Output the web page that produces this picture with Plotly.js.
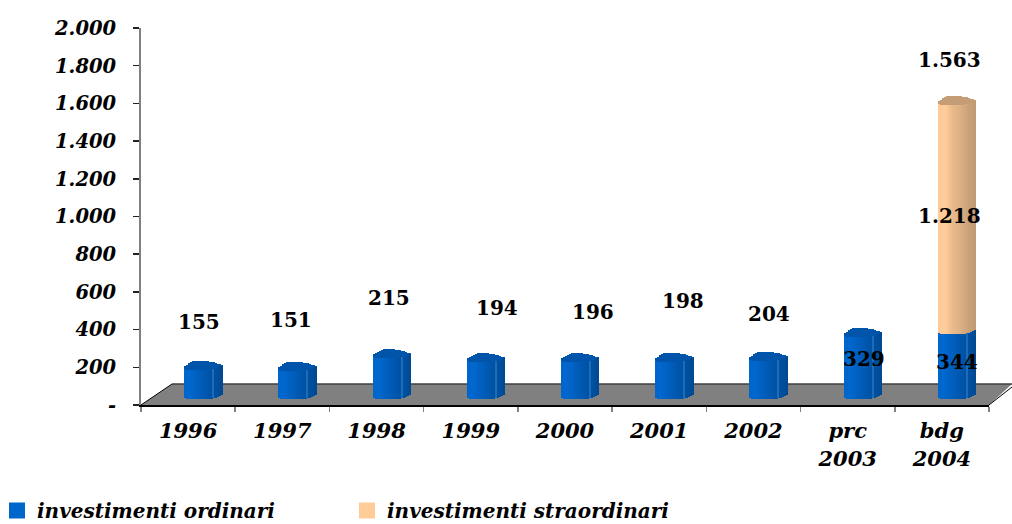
<!DOCTYPE html>
<html><head><meta charset="utf-8">
<script src="https://cdn.plot.ly/plotly-3.0.1.min.js"></script>
<style>html,body{margin:0;padding:0;background:#fff}#c{width:1012px;height:524px}</style>
</head><body><div id="c"></div>
<script>
// ---- data ----
const categories = ['1996','1997','1998','1999','2000','2001','2002','prc<br>2003','bdg<br>2004'];
const ordinari = [155,151,215,194,196,198,204,329,344];
const straordinari = [null,null,null,null,null,null,null,null,1218];
const totaleLabel = '1.563';
const yTickVals = [0,200,400,600,800,1000,1200,1400,1600,1800,2000];
const yTickText = ['-','200','400','600','800','1.000','1.200','1.400','1.600','1.800','2.000'];
// label placement (category index, value units)
const labelOrdX = [0.116,1.09,2.13,3.28,4.30,5.25,6.17,7.17,8.16];
const labelOrdY = [440,451,568,515,493,552,483,244,228];
const labelExtra = {x:8.08,y:1003};
const labelTotal = {x:8.08,y:1830};

// ---- geometry / style ----
const W=1012,H=524,L=141,R=989,T=28,B=405;
const pxX=(R-L)/categories.length, pxY=(B-T)/2000;
const FONT='"DejaVu Serif"';
const floorBase=6/pxY;
const blue=['#0066CC','#0066CC','#0068CE','#0066CC','#0064C8','#0062C4','#0060C0','#005EBC','#005CB8','#005AB4','#0058B0','#0056AC','#0054A8','#0052A4','#1C6CBC','#0050A0','#004E9C','#004C98','#004A94'];
const peach=['#FFCC99','#FFCC99','#FFCC99','#FFCC99','#FBC996','#F4C391','#ECBD8D','#E8BA8B','#E5B78A','#E2B588','#DEB285','#DAAF83','#D6AB80','#D2A87E','#CDA47B','#C9A078','#C69E77','#C49C75','#C29A74'];
const rise=[1,0,0,0,0,0,0,0,0,0,0,0,0,0.5,1,1.5,2,3,4];      // px lift of the lower/upper front edge
const depth=[3,5,6.5,7.5,8.5,9,9,9,9,9,9,8.5,8,7.5,6.5,5.5,4,2.5,1]; // px depth of the top ellipse
const strips=blue.length, stripPx=2;
const capBlue='#0055AA', capPeach='#C49C75';
const toCat=p=>p/pxX;

const traces=[];
for(let s=0;s<strips;s++){
  const off=toCat(-4+s*stripPx), wid=toCat(stripPx+0.4);
  const lift=rise[s]/pxY, cap=depth[s]/pxY;
  const common={type:'bar',x:categories,offset:off,width:wid,showlegend:false,hoverinfo:'skip'};
  const ordTopCap=ordinari.map((v,i)=>straordinari[i]==null?cap:null);
  traces.push({...common,y:ordinari,base:ordinari.map(()=>floorBase+lift),marker:{color:blue[s],line:{width:0}}});
  traces.push({...common,y:ordTopCap,base:ordinari.map(v=>floorBase+lift+v),marker:{color:capBlue,line:{width:0}}});
  traces.push({...common,y:straordinari,base:ordinari.map(v=>floorBase+lift+v),marker:{color:peach[s],line:{width:0}}});
  traces.push({...common,y:straordinari.map(v=>v==null?null:cap),base:ordinari.map((v,i)=>floorBase+lift+v+(straordinari[i]||0)),marker:{color:capPeach,line:{width:0}}});
}
// legend entries
traces.push({type:'bar',x:[categories[0]],y:[null],name:'investimenti ordinari',marker:{color:'#0066CC',line:{color:'#0066CC',width:4}},hoverinfo:'skip'});
traces.push({type:'bar',x:[categories[0]],y:[null],name:'investimenti straordinari',marker:{color:'#FFCC99',line:{color:'#FFCC99',width:4}},hoverinfo:'skip'});

const fmt=n=>String(n).replace(/\B(?=(\d{3})+$)/g,'.');
const lab=(x,y,t)=>({xref:'x',yref:'y',x,y,text:t,showarrow:false,xanchor:'center',yanchor:'middle',font:{family:FONT,size:20,color:'#000',weight:700}});
const annotations=ordinari.map((v,i)=>lab(labelOrdX[i],labelOrdY[i],fmt(v)));
annotations.push(lab(labelExtra.x,labelExtra.y,fmt(straordinari[8])));
annotations.push(lab(labelTotal.x,labelTotal.y,totaleLabel));

const fx=p=>(p-L)/(R-L), fy=p=>(B-p)/(B-T);
const floor={type:'path',xref:'paper',yref:'paper',layer:'below',fillcolor:'#808080',line:{width:0},
  path:`M ${fx(141)} ${fy(405)} L ${fx(172)} ${fy(384)} L ${fx(1012)} ${fy(384)} L ${fx(989)} ${fy(405)} Z`};
const edge={type:'path',xref:'paper',yref:'paper',layer:'below',line:{color:'#404040',width:1.5},
  path:`M ${fx(172)} ${fy(384)} L ${fx(1012)} ${fy(384)}`};
const edge2={type:'path',xref:'paper',yref:'paper',layer:'below',line:{color:'#000',width:1},
  path:`M ${fx(141)} ${fy(405)} L ${fx(172)} ${fy(384)} M ${fx(989)} ${fy(405)} L ${fx(1012)} ${fy(387)}`};

const layout={
  width:W,height:H,margin:{l:L,r:W-R,t:T,b:H-B,pad:0,autoexpand:false},
  paper_bgcolor:'#fff',plot_bgcolor:'#fff',barmode:'overlay',bargap:0,
  font:{family:FONT,color:'#000'},
  xaxis:{type:'category',range:[-0.5,8.5],tickmode:'array',tickvals:categories,ticktext:categories,tickson:'boundaries',
    ticks:'outside',ticklen:5,tickcolor:'#808080',tickwidth:1.5,showgrid:false,zeroline:false,
    showline:true,linecolor:'#000',linewidth:2,ticklabelstandoff:6,automargin:false,
    tickangle:0,tickfont:{family:FONT,size:21,style:'italic',weight:700,color:'#000'}},
  yaxis:{range:[0,2000],tickmode:'array',tickvals:yTickVals,ticktext:yTickText,ticks:'outside',ticklen:6,tickcolor:'#222',tickwidth:1.5,
    showgrid:false,zeroline:false,showline:true,linecolor:'#808080',linewidth:2,ticklabelstandoff:13,automargin:false,
    tickfont:{family:FONT,size:19.5,style:'italic',weight:700,color:'#000'}},
  shapes:[floor,edge,edge2],annotations,
  legend:{orientation:'h',x:fx(-3),xanchor:'left',y:fy(491),yanchor:'top',entrywidth:305,entrywidthmode:'pixels',itemwidth:30,
    traceorder:'normal',bgcolor:'rgba(0,0,0,0)',font:{family:FONT,size:20,style:'italic',weight:700,color:'#000'}},
  showlegend:true
};
Plotly.newPlot('c',traces,layout,{displayModeBar:false,staticPlot:true});
</script></body></html>
